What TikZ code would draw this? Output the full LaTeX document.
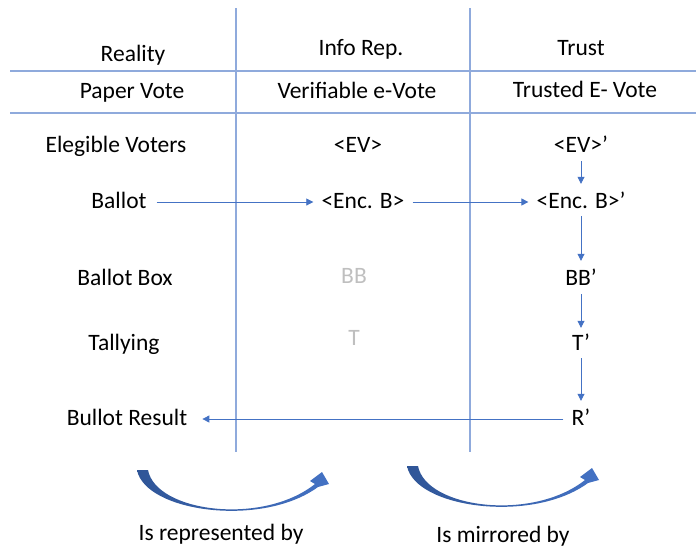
\documentclass[tikz,border=0pt]{standalone}
\usepackage{fontspec}
\setmainfont{Carlito}
\usetikzlibrary{arrows.meta}
\definecolor{gridblue}{HTML}{8FAADC}
\definecolor{arrblue}{HTML}{4472C4}
\definecolor{darkblue}{HTML}{2F5597}
\definecolor{faint}{HTML}{BFBFBF}
\tikzset{
  lbl/.style={inner sep=0pt, font=\fontsize{23.5}{28}\selectfont, text height=16pt, text depth=4pt},
  gridline/.style={draw=gridblue, line width=1.2pt},
  flow/.style={draw=arrblue, line width=0.8pt, -{Triangle[length=7pt,width=7pt]}},
  crescent/.style={left color=darkblue, right color=arrblue, draw=none},
}
\begin{document}
\begin{tikzpicture}[x=1pt,y=-1pt]
\useasboundingbox (0,0) rectangle (696,550);
% grid
\draw[gridline] (236,8) -- (236,452);
\draw[gridline] (470,8) -- (470,452);
\draw[gridline] (10,71) -- (696,71);
\draw[gridline] (10,113) -- (696,113);
% headers
\node[lbl] (h1) at (133,55) {Reality};
\node[lbl] (h2) at (361,49) {Info Rep.};
\node[lbl] (h3) at (581,49) {Trust};
\node[lbl] (s1) at (132,92) {Paper Vote};
\node[lbl] (s2) at (357,92) {Verifiable e-Vote};
\node[lbl] (s3) at (585,91) {Trusted E- Vote};
% rows
\node[lbl] (ev) at (116,146) {Elegible Voters};
\node[lbl] (evr) at (358,146) {<EV>};
\node[lbl] (evt) at (581,146) {<EV>’};
\node[lbl] (ba) at (119,202) {Ballot};
\node[lbl] (bar) at (363,202) {<Enc. B>};
\node[lbl] (bat) at (581,202) {<Enc. B>’};
\node[lbl] (bb) at (125,279) {Ballot Box};
\node[lbl,text=faint] (bbr) at (354,277) {BB};
\node[lbl] (bbt) at (581,279) {BB’};
\node[lbl] (ta) at (124,344) {Tallying};
\node[lbl,text=faint] (tar) at (354,339) {T};
\node[lbl] (tat) at (581,344) {T’};
\node[lbl] (re) at (127,419) {Bullot Result};
\node[lbl] (ret) at (581,419) {R’};
% arrows
\draw[flow, shorten <=10pt, shorten >=8pt] (ba.east) -- (bar.west);
\draw[flow, shorten <=8pt, shorten >=8pt] (bar.east) -- (bat.west);
\draw[flow, shorten <=5pt, shorten >=8pt] (evt.south) -- (bat.north);
\draw[flow, shorten <=4pt, shorten >=8pt] (bat.south) -- (bbt.north);
\draw[flow, shorten <=5pt, shorten >=6pt] (bbt.south) -- (tat.north);
\draw[flow, shorten <=4pt, shorten >=8pt] (tat.south) -- (ret.north);
\draw[flow, shorten <=8pt, shorten >=15pt] (ret.west) -- (re.east);
% curved arrows
\foreach \dx/\dy in {0/0, 270/-4} {
\begin{scope}[shift={(\dx,\dy)}]
\shade[crescent] (137,470) .. controls (145,512) and (262,528) .. (318,487)
  -- (329,484) -- (322,472) -- (310,481) -- (315,484)
  .. controls (262,526) and (156,512) .. (148,470) -- cycle;
\end{scope}
}
\node[lbl] (c1) at (221,534) {Is represented by};
\node[lbl] (c2) at (503,536) {Is mirrored by};
\end{tikzpicture}
\end{document}
